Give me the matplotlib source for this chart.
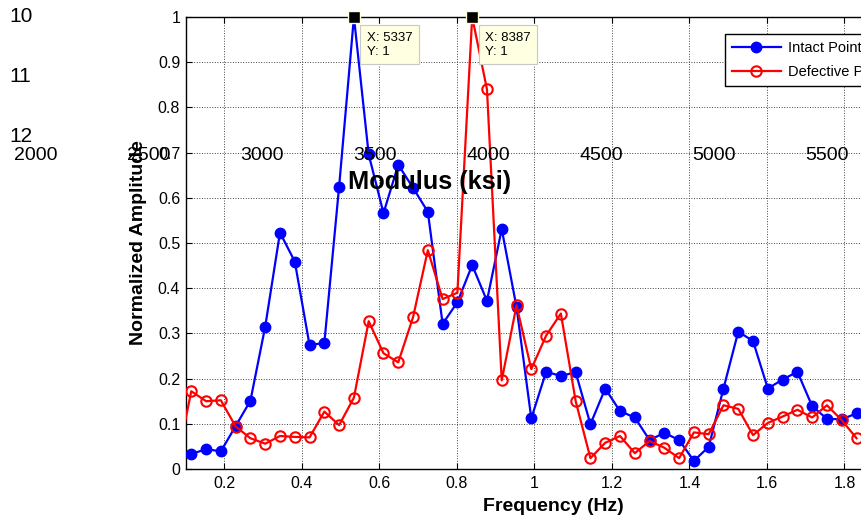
import matplotlib
matplotlib.use('Agg')
import matplotlib.pyplot as plt
from matplotlib.ticker import FuncFormatter

plt.rcParams['font.family'] = ['Liberation Sans', 'DejaVu Sans']

# frequency bins (Hz)
freq_intact = [0.1144, 0.1526, 0.1907, 0.2289, 0.2670, 0.3052, 0.3433, 0.3815,
               0.4196, 0.4578, 0.4959, 0.5341, 0.5722, 0.6104, 0.6485, 0.6867,
               0.7248, 0.7630, 0.8011, 0.8393, 0.8774, 0.9155, 0.9537, 0.9918,
               1.0300, 1.0681, 1.1063, 1.1444, 1.1826, 1.2207, 1.2589, 1.2970,
               1.3351, 1.3733, 1.4114, 1.4496, 1.4877, 1.5259, 1.5640, 1.6022,
               1.6403, 1.6785, 1.7166, 1.7548, 1.7929, 1.8311]
amp_intact = [0.033, 0.044, 0.039, 0.095, 0.151, 0.315, 0.523, 0.459,
              0.274, 0.279, 0.625, 1.0, 0.696, 0.566, 0.673, 0.622,
              0.569, 0.321, 0.369, 0.451, 0.372, 0.531, 0.358, 0.112,
              0.215, 0.206, 0.214, 0.099, 0.178, 0.128, 0.114, 0.064,
              0.080, 0.064, 0.018, 0.049, 0.178, 0.304, 0.283, 0.178,
              0.198, 0.215, 0.139, 0.111, 0.110, 0.123]

freq_defect = [0.0763, 0.1144, 0.1526, 0.1907, 0.2289, 0.2670, 0.3052, 0.3433,
               0.3815, 0.4196, 0.4578, 0.4959, 0.5341, 0.5722, 0.6104, 0.6485,
               0.6867, 0.7248, 0.7630, 0.8011, 0.8393, 0.8774, 0.9155, 0.9537,
               0.9918, 1.0300, 1.0681, 1.1063, 1.1444, 1.1826, 1.2207, 1.2589,
               1.2970, 1.3351, 1.3733, 1.4114, 1.4496, 1.4877, 1.5259, 1.5640,
               1.6022, 1.6403, 1.6785, 1.7166, 1.7548, 1.7929, 1.8311]
amp_defect = [0.012, 0.172, 0.150, 0.152, 0.094, 0.068, 0.056, 0.073,
              0.071, 0.070, 0.127, 0.097, 0.158, 0.327, 0.256, 0.236,
              0.336, 0.484, 0.376, 0.390, 1.0, 0.840, 0.196, 0.362,
              0.221, 0.295, 0.344, 0.150, 0.024, 0.058, 0.073, 0.035,
              0.062, 0.047, 0.024, 0.081, 0.077, 0.141, 0.133, 0.075,
              0.102, 0.116, 0.131, 0.114, 0.141, 0.108, 0.068]

tip_x = [0.5341, 0.8393]
tip_y = [1.0, 1.0]
tip_text = ['X: 5337\nY: 1', 'X: 8387\nY: 1']

# stray labels left over from another figure
stray_left = ['10', '11', '12']
stray_mod = ['2000', '2500', '3000', '3500', '4000', '4500', '5000', '5500']

fig = plt.figure(figsize=(8.62, 5.19), dpi=100)
W, H = 862, 519
ax = fig.add_axes([185.7 / W, 50 / H, 736.3 / W, 452 / H])

ax.plot(freq_intact, amp_intact, '-o', color='blue', lw=1.6, ms=7.5,
        mfc='blue', mec='blue', label='Intact Point', zorder=3)
ax.plot(freq_defect, amp_defect, '-o', color='red', lw=1.6, ms=7.5,
        mfc='none', mec='red', mew=1.5, label='Defective Point', zorder=4)

ax.set_xlim(0.1, 2.0)
ax.set_ylim(0, 1)
ax.set_xticks([0.2, 0.4, 0.6, 0.8, 1.0, 1.2, 1.4, 1.6, 1.8, 2.0])
ax.set_yticks([0, 0.1, 0.2, 0.3, 0.4, 0.5, 0.6, 0.7, 0.8, 0.9, 1.0])
fmt = FuncFormatter(lambda v, p: '%g' % v)
ax.xaxis.set_major_formatter(fmt)
ax.yaxis.set_major_formatter(fmt)
ax.tick_params(direction='in', top=True, right=True, length=4,
               labelsize=11.5, pad=4)
ax.tick_params(axis='x', pad=5)
ax.grid(True, ls=':', color='#444444', lw=0.7)
ax.set_axisbelow(True)
for s in ax.spines.values():
    s.set_linewidth(1.0)

ax.set_xlabel('Frequency (Hz)', fontsize=14, fontweight='bold')
ax.set_ylabel('Normalized Amplitude', fontsize=14, fontweight='bold')
ax.xaxis.set_label_coords(0.5, -0.064)
ax.yaxis.set_label_coords(-0.052, 0.5)

# data tips
ax.plot(tip_x, tip_y, 's', color='black', ms=8.5, mec='#ffffd8', mew=1,
        zorder=6, clip_on=False)
for x, y, t in zip(tip_x, tip_y, tip_text):
    ax.annotate(t, xy=(x, y), xytext=(13, -15), textcoords='offset pixels',
                ha='left', va='top', fontsize=9.5, linespacing=1.2, zorder=7,
                bbox=dict(boxstyle='square,pad=0.5', fc='#ffffe1',
                          ec='#c8c8c8', lw=0.8))

leg = ax.legend(loc='upper left', bbox_to_anchor=(0.7325, 0.962),
                fontsize=10.5, handlelength=3.4, fancybox=False,
                framealpha=1, edgecolor='black', borderpad=0.45,
                labelspacing=0.7, handletextpad=0.5, borderaxespad=0)
leg.get_frame().set_linewidth(1.0)

for i, t in enumerate(stray_left):
    fig.text(9 / W, 1 - (17 + 60 * i) / H, t, fontsize=15,
             ha='left', va='center')
for i, t in enumerate(stray_mod):
    fig.text((36 + 113 * i) / W, 1 - 155 / H, t, fontsize=14,
             ha='center', va='center')
fig.text(430 / W, 1 - 182 / H, 'Modulus (ksi)', fontsize=18.3,
         fontweight='bold', ha='center', va='center')

fig.savefig('out.png', dpi=100)
